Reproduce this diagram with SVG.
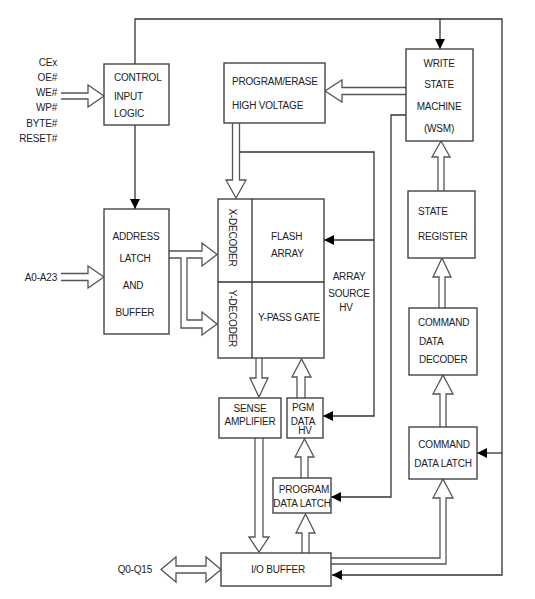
<svg xmlns="http://www.w3.org/2000/svg" width="535" height="599" viewBox="0 0 535 599">
<defs>
<marker id="ah" viewBox="0 0 10 10" refX="10" refY="5" markerWidth="10" markerHeight="10" markerUnits="userSpaceOnUse" orient="auto">
<path d="M0,0 L10,5 L0,10 Z" fill="#000"/>
</marker>
</defs>
<style>
.box{fill:#fff;stroke:#444;stroke-width:1.4}
.t{font-family:"Liberation Sans",Arial,sans-serif;font-size:10px;fill:#222;letter-spacing:-0.2px}
.m{text-anchor:middle}
.e{text-anchor:end}
.hol{fill:#fff;stroke:#555;stroke-width:1.3}
.ln{fill:none;stroke:#333;stroke-width:1.3}
</style>
<rect width="535" height="599" fill="#fff"/>

<g id="connectors">
<path class="ln" d="M135,64 V19 H502 V575 H332" marker-end="url(#ah)"/>
<path class="ln" d="M440,19 V49" marker-end="url(#ah)"/>
<path class="ln" d="M502,453 H477" marker-end="url(#ah)"/>
<path class="ln" d="M135,125 V209" marker-end="url(#ah)"/>
<path class="ln" d="M406,115 H391 V497 H331" marker-end="url(#ah)"/>
<path class="ln" d="M239.5,152 H374 V416 H323" marker-end="url(#ah)"/>
<path class="ln" d="M374,240 H324" marker-end="url(#ah)"/>
<polyline class="hol" points="61,93 88,93 88,85 104,96 88,107 88,99 61,99"/>
<polyline class="hol" points="61,273.5 88,273.5 88,266 104,277 88,288 88,280.5 61,280.5"/>
<polyline class="hol" points="406,87.5 342,87.5 342,80 325,91 342,102 342,94.5 406,94.5"/>
<polyline class="hol" points="232.5,123 232.5,180 226,180 236,198 246,180 239.5,180 239.5,123"/>
<polyline class="hol" points="438,191 438,157 432,157 441,141 450,157 444,157 444,191"/>
<polyline class="hol" points="439,308 439,277 433,277 442,258 451,277 445,277 445,308"/>
<polyline class="hol" points="440,427 440,394 433,394 443,375 453,394 446,394 446,427"/>
<polyline class="hol" points="331,558 440,558 440,498 433,498 443,479 453,498 446,498 446,564 331,564"/>
<polyline class="hol" points="256,358 256,378 250,378 259,397 268,378 262,378 262,358"/>
<polyline class="hol" points="297,398 297,377 292,377 301.5,359 311,377 305,377 305,398"/>
<polyline class="hol" points="301,478 301,457 295,457 304.5,439 314,457 308,457 308,478"/>
<polyline class="hol" points="302,553 302,533 296,533 305.5,514 315,533 309,533 309,553"/>
<polyline class="hol" points="255,438 255,537 249,537 259,552 269,537 263,537 263,438"/>
<polygon class="hol" points="161,569.5 176,557 176,566 206,566 206,557 221,569.5 206,582 206,573 176,573 176,582"/>
<polyline class="hol" points="169,251 202,251 202,243 217,254.5 202,266 202,258 187,258 187,320 202,320 202,312 217,324 202,335 202,328 181,328 181,258 169,258"/>
</g>

<g id="inputs">
<text class="t e" x="57" y="66">CEx</text>
<text class="t e" x="57" y="81">OE#</text>
<text class="t e" x="57" y="96">WE#</text>
<text class="t e" x="57" y="111">WP#</text>
<text class="t e" x="57" y="127">BYTE#</text>
<text class="t e" x="57" y="142">RESET#</text>
<text class="t e" x="57" y="281">A0-A23</text>
<text class="t e" x="152" y="573">Q0-Q15</text>
</g>

<g id="control-input-logic">
<rect class="box" x="104" y="64" width="65" height="61"/>
<text class="t" x="114" y="81">CONTROL</text>
<text class="t" x="114" y="100">INPUT</text>
<text class="t" x="114" y="117">LOGIC</text>
</g>

<g id="program-erase-hv">
<rect class="box" x="224" y="63" width="101" height="60"/>
<text class="t" x="232" y="85">PROGRAM/ERASE</text>
<text class="t" x="232" y="109">HIGH VOLTAGE</text>
</g>

<g id="wsm">
<rect class="box" x="406" y="49" width="67" height="92"/>
<text class="t m" x="439" y="67">WRITE</text>
<text class="t m" x="439" y="88">STATE</text>
<text class="t m" x="439" y="110">MACHINE</text>
<text class="t m" x="439" y="132">(WSM)</text>
</g>

<g id="address-latch">
<rect class="box" x="104" y="209" width="65" height="125"/>
<text class="t m" x="136" y="240">ADDRESS</text>
<text class="t m" x="135" y="262">LATCH</text>
<text class="t m" x="133" y="289">AND</text>
<text class="t m" x="135" y="316">BUFFER</text>
</g>

<g id="flash-array">
<rect class="box" x="218" y="199" width="106" height="159"/>
<line class="ln" x1="252" y1="199" x2="252" y2="358" stroke="#444"/>
<line class="ln" x1="218" y1="282" x2="324" y2="282" stroke="#444"/>
<text class="t m" transform="translate(229,237.5) rotate(90)">X-DECODER</text>
<text class="t m" transform="translate(229,318.5) rotate(90)">Y-DECODER</text>
<text class="t" x="271" y="240">FLASH</text>
<text class="t" x="271" y="257">ARRAY</text>
<text class="t m" x="289" y="321">Y-PASS GATE</text>
</g>

<g id="array-source-hv">
<text class="t m" x="349" y="280">ARRAY</text>
<text class="t m" x="349" y="297">SOURCE</text>
<text class="t m" x="346" y="311">HV</text>
</g>

<g id="state-register">
<rect class="box" x="408" y="191" width="67" height="67"/>
<text class="t" x="418" y="215">STATE</text>
<text class="t" x="418" y="240">REGISTER</text>
</g>

<g id="command-data-decoder">
<rect class="box" x="409" y="308" width="68" height="67"/>
<text class="t" x="418" y="326">COMMAND</text>
<text class="t" x="419" y="345">DATA</text>
<text class="t" x="419" y="363">DECODER</text>
</g>

<g id="command-data-latch">
<rect class="box" x="409" y="427" width="68" height="52"/>
<text class="t m" x="444" y="448">COMMAND</text>
<text class="t m" x="443" y="467">DATA LATCH</text>
</g>

<g id="sense-amplifier">
<rect class="box" x="219" y="398" width="62" height="40"/>
<text class="t m" x="250" y="412">SENSE</text>
<text class="t m" x="250" y="425">AMPLIFIER</text>
</g>

<g id="pgm-data-hv">
<rect class="box" x="287" y="398" width="36" height="40"/>
<text class="t m" x="303" y="411">PGM</text>
<text class="t m" x="303" y="424.5">DATA</text>
<text class="t m" x="305" y="434">HV</text>
</g>

<g id="program-data-latch">
<rect class="box" x="273" y="478" width="58" height="35"/>
<text class="t m" x="304" y="493">PROGRAM</text>
<text class="t m" x="302" y="507">DATA LATCH</text>
</g>

<g id="io-buffer">
<rect class="box" x="221" y="553" width="110" height="33"/>
<text class="t m" x="278" y="573">I/O BUFFER</text>
</g>
</svg>
